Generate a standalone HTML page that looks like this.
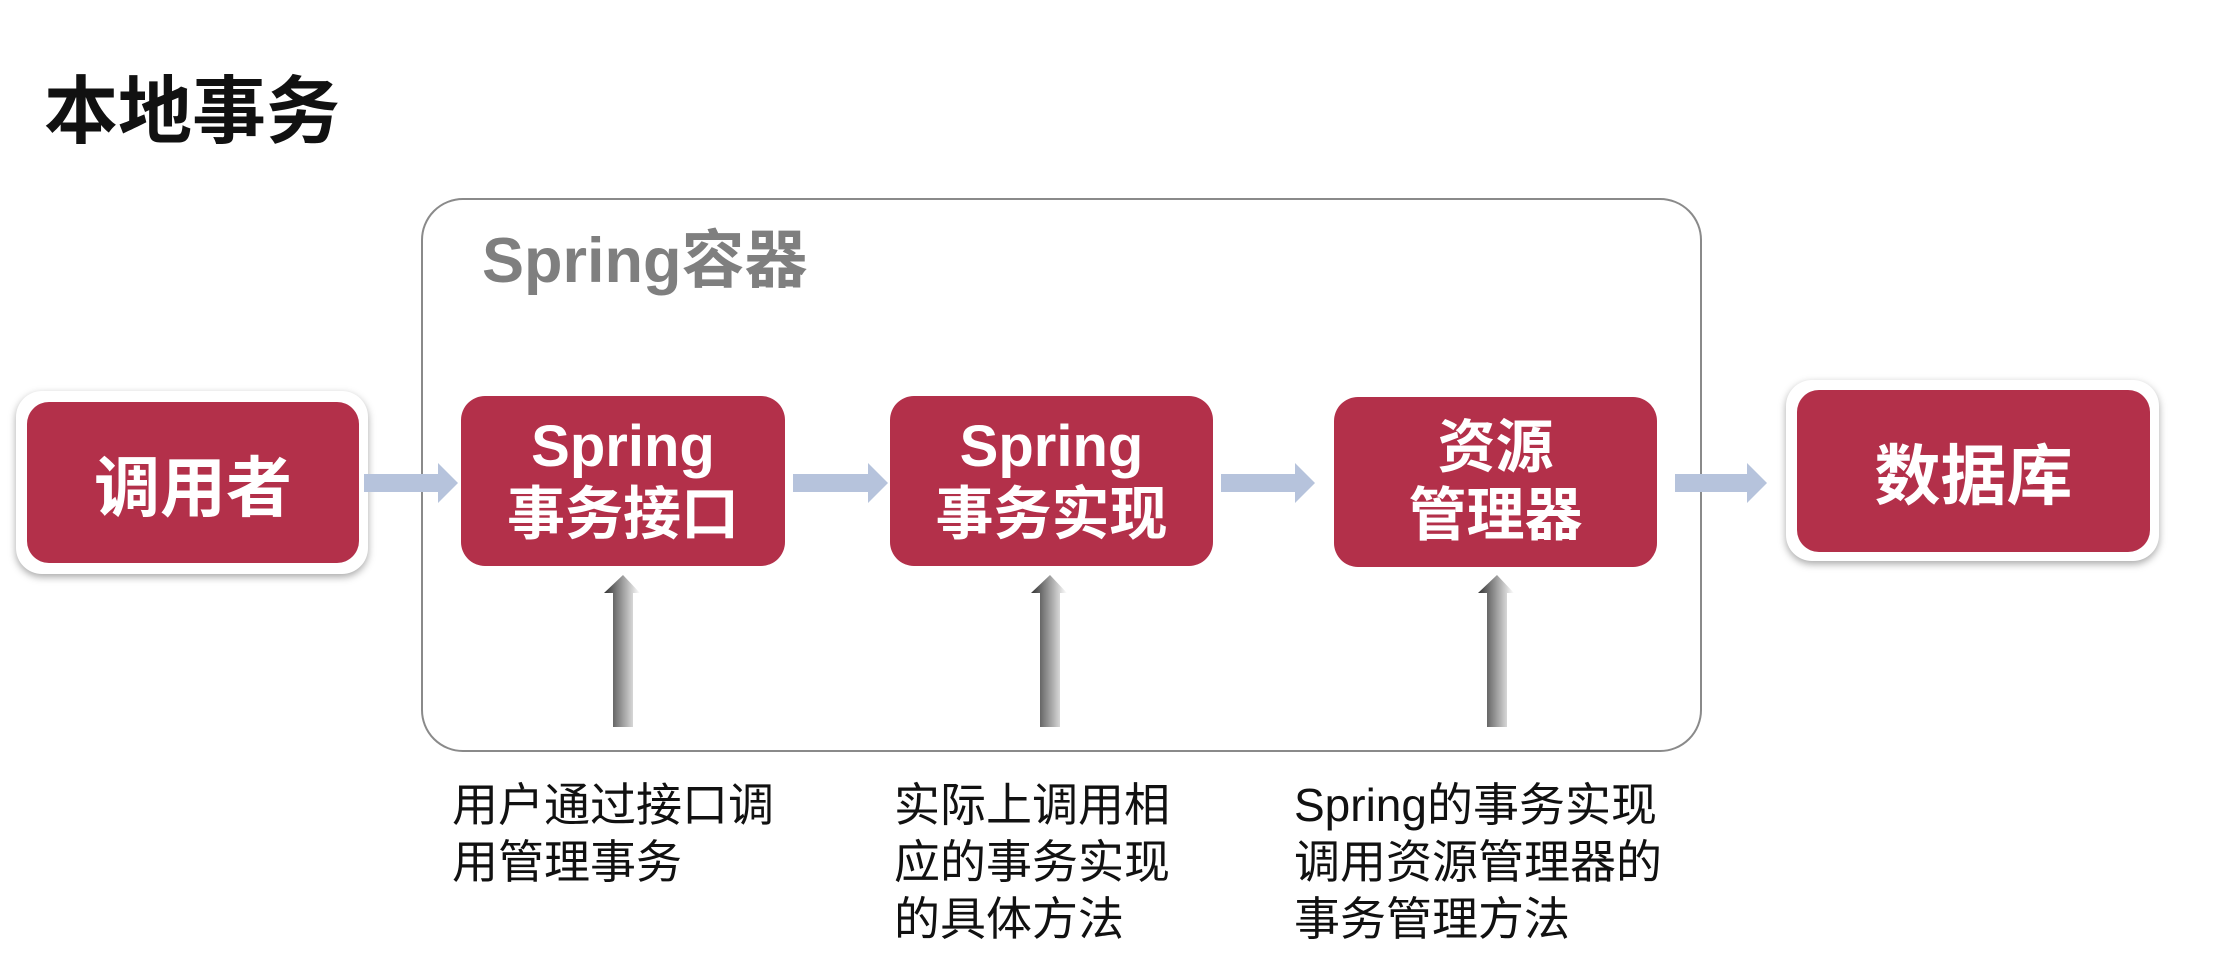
<!DOCTYPE html>
<html><head><meta charset="utf-8"><style>
body{margin:0;width:2218px;height:962px;background:#fff;position:relative;overflow:hidden;font-family:"Liberation Sans","Noto Sans CJK SC",sans-serif}
.a{position:absolute}
.red{position:absolute;background:#b3304a;border-radius:24px;color:#fff;font-weight:bold;display:flex;flex-direction:column;align-items:center;justify-content:center;text-align:center}
.outer{position:absolute;background:#fff;border-radius:26px;box-shadow:0 3px 8px rgba(0,0,0,0.35)}
.lbl{position:absolute;font-size:46px;line-height:57px;color:#111;white-space:nowrap}
</style></head><body>
<div class="a" style="left:44px;top:52px;font-size:74px;font-weight:bold;color:#111">本地事务</div>
<div class="a" style="left:421px;top:198px;width:1277px;height:550px;border:2px solid #8a8a8a;border-radius:42px"></div>
<div class="a" style="left:482px;top:210px;font-size:63px;font-weight:bold;color:#7f7f7f">Spring容器</div>

<div class="outer" style="left:16px;top:391px;width:352px;height:183px"></div>
<div class="red" style="left:27px;top:402px;width:332px;height:161px;font-size:66px;border-radius:22px">调用者</div>

<div class="red" style="left:461px;top:396px;width:324px;height:170px;font-size:58px;line-height:68px">Spring<br>事务接口</div>
<div class="red" style="left:890px;top:396px;width:323px;height:170px;font-size:58px;line-height:68px">Spring<br>事务实现</div>
<div class="red" style="left:1334px;top:397px;width:323px;height:170px;font-size:58px;line-height:68px">资源<br>管理器</div>

<div class="outer" style="left:1786px;top:380px;width:373px;height:181px"></div>
<div class="red" style="left:1797px;top:390px;width:353px;height:162px;font-size:66px;border-radius:22px">数据库</div>

<svg class="a" style="left:0;top:0" width="2218" height="962">
<defs><linearGradient id="g" x1="0" x2="1" y1="0" y2="0"><stop offset="0" stop-color="#333"/><stop offset="0.5" stop-color="#999"/><stop offset="1" stop-color="#fff"/></linearGradient></defs>
<g fill="#b6c3dc">
<polygon points="364,474 438,474 438,463 458,483 438,503 438,492 364,492"/>
<polygon points="793,474 868,474 868,463 888,483 868,503 868,492 793,492"/>
<polygon points="1221,474 1295,474 1295,463 1315,483 1295,503 1295,492 1221,492"/>
<polygon points="1675,474 1747,474 1747,463 1767,483 1747,503 1747,492 1675,492"/>
</g>
<g fill="url(#g)">
<polygon points="613,727 613,593 604,593 623,575 640,593 633,593 633,727"/>
<polygon points="1040,727 1040,593 1031,593 1050,575 1067,593 1060,593 1060,727"/>
<polygon points="1487,727 1487,593 1478,593 1497,575 1514,593 1507,593 1507,727"/>
</g>
</svg>

<div class="lbl" style="left:452px;top:777px">用户通过接口调<br>用管理事务</div>
<div class="lbl" style="left:894px;top:777px">实际上调用相<br>应的事务实现<br>的具体方法</div>
<div class="lbl" style="left:1294px;top:777px">Spring的事务实现<br>调用资源管理器的<br>事务管理方法</div>
</body></html>
